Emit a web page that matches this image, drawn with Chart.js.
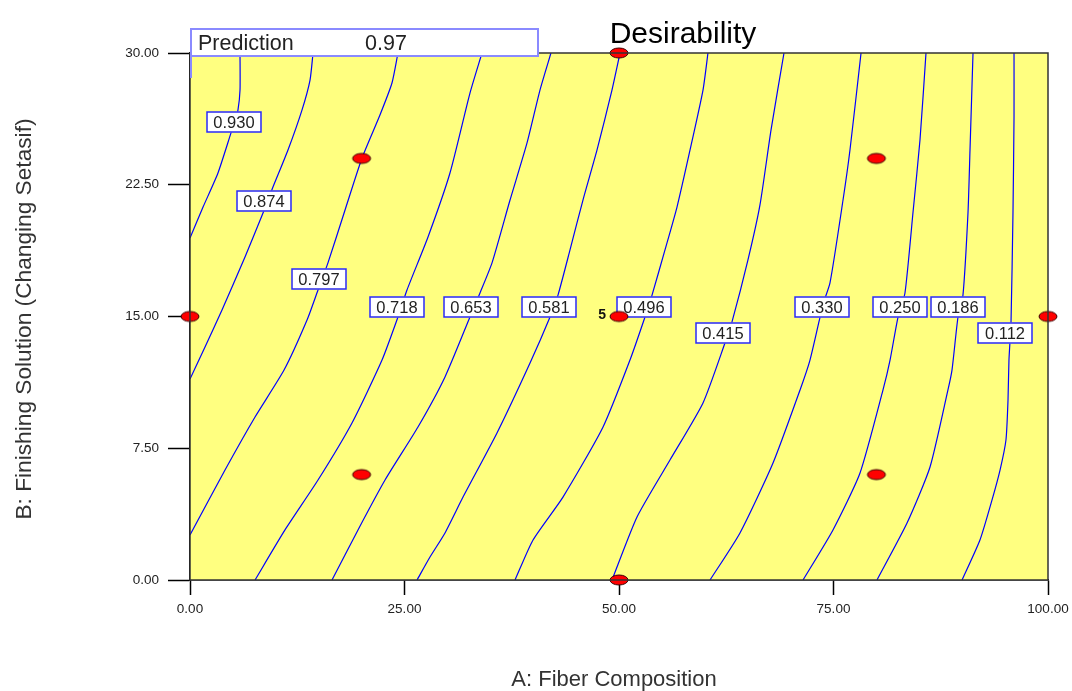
<!DOCTYPE html>
<html>
<head>
<meta charset="utf-8">
<script src="https://cdn.jsdelivr.net/npm/chart.js@4/dist/chart.umd.min.js"></script>
<style>
  html, body { margin: 0; padding: 0; background: #fff; }
  #wrap { width: 1072px; height: 691px; }
</style>
</head>
<body>
<div id="wrap"><canvas id="c" width="1072" height="691"></canvas></div>
<script>
// Axis ticks
const xTicks = [0, 25, 50, 75, 100];
const yTicks = [0, 7.5, 15, 22.5, 30];

// Contour levels of desirability
const levels = ['0.930', '0.874', '0.797', '0.718', '0.653', '0.581', '0.496', '0.415', '0.330', '0.250', '0.186', '0.112'];

// Contour paths as [A: Fiber Composition, B: Finishing Solution]
const c930 = [[5.83,30],[5.83,27.89],[5.59,26.75],[5.24,26.13],[4.78,25.45],[3.26,23.17],[1.52,21.23],[0,19.47]];
const c874 = [[14.34,30],[13.99,28.46],[13.05,26.75],[11.42,24.48],[9.67,22.37],[9.09,21.63],[8.51,20.89],[6.41,18.39],[3.73,15.37],[1.75,13.26],[0,11.44]];
const c797 = [[24.24,30],[23.54,28.29],[22.14,26.47],[20.05,24.02],[18.07,21.06],[16.08,18.05],[14.92,16.51],[13.64,14.80],[10.96,11.95],[7.58,9.28],[4.08,6.26],[0,2.56]];
const c718 = [[34.03,30],[32.63,27.72],[30.30,23.17],[27.74,19.53],[25.29,16.51],[24.24,14.97],[22.38,12.52],[18.88,8.94],[14.92,5.69],[11.07,2.85],[7.58,0]];
const c653 = [[42.07,30],[40.79,27.89],[39.28,24.88],[37.30,21.63],[35.20,18.05],[33.80,16.34],[32.63,14.97],[29.72,11.56],[26.57,8.71],[22.73,5.69],[19.58,2.85],[16.55,0]];
const c581 = [[50.12,30],[49.18,27.89],[47.44,24.48],[45.80,21.63],[44.29,18.79],[42.89,16.22],[41.96,14.97],[39.63,12.35],[35.78,8.37],[31.82,4.72],[29.72,2.68],[27.97,1.31],[26.46,0]];
const c496 = [[60.37,30],[59.79,27.89],[58.28,24.48],[56.76,21.23],[55.36,18.79],[53.85,16.22],[53.03,14.97],[51.28,12.52],[48.14,8.71],[43.47,4.72],[39.98,2.28],[37.88,0]];
const c415 = [[69.23,30],[67.72,25.62],[66.43,21.35],[65.03,18.22],[63.17,14.69],[62.35,13.49],[59.79,10.08],[55.94,6.83],[52.10,3.59],[49.18,0]];
const c330 = [[78.21,30],[76.92,24.48],[76.11,21.63],[74.59,16.91],[73.66,15.54],[73.43,14.97],[72.26,12.52],[71.10,10.82],[67.95,6.66],[64.10,2.68],[60.61,0]];
const c250 = [[85.78,30],[85.08,25.05],[84.27,20.95],[83.33,16.34],[82.52,14.97],[81.59,12.52],[80.77,10.82],[78.09,6.09],[74.94,2.85],[71.45,0]];
const c186 = [[91.26,30],[90.91,24.48],[90.68,20.95],[90.09,16.22],[89.51,14.97],[88.81,11.95],[88.34,10.82],[86.25,6.43],[83.57,3.24],[80.07,0]];
const c112 = [[96.04,30],[96.04,26.36],[95.92,20.95],[95.69,14.69],[95.45,12.52],[95.34,10.25],[95.10,7.97],[94.41,6.26],[93.47,4.55],[92.07,2.28],[89.98,0]];

// Where each contour level is labelled
const labelA = [5.13, 8.62, 15.03, 24.13, 32.75, 41.84, 52.91, 62.12, 73.66, 82.75, 89.51, 94.99];
const labelB = [26.07, 21.57, 17.13, 15.54, 15.54, 15.54, 15.54, 14.06, 15.54, 15.54, 15.54, 14.06];

// Design points
const designA = [0, 20, 20, 50, 50, 50, 80, 80, 100];
const designB = [15, 24, 6, 30, 15, 0, 24, 6, 15];
const centerRuns = '5';

// Prediction flag
const predictionValue = '0.97';
const predictionA = 0;
const predictionB = 30;

const contours = [c930, c874, c797, c718, c653, c581, c496, c415, c330, c250, c186, c112];

// Red elliptical marker for design points
function makeMarker() {
  const m = document.createElement('canvas');
  m.width = 22; m.height = 14;
  const g = m.getContext('2d');
  g.beginPath();
  g.ellipse(11, 7, 9, 5, 0, 0, Math.PI * 2);
  g.fillStyle = '#ff0000';
  g.fill();
  g.lineWidth = 1;
  g.strokeStyle = '#3a0000';
  g.stroke();
  return m;
}
const marker = makeMarker();

const datasets = [];
datasets.push({
  label: 'design',
  data: designA.map((a, i) => ({ x: a, y: designB[i] })),
  showLine: false,
  pointStyle: marker,
  pointRadius: 8,
  pointHoverRadius: 8,
  clip: false
});
contours.forEach((c, i) => {
  datasets.push({
    label: levels[i],
    data: c.map(p => ({ x: p[0], y: p[1] })),
    showLine: true,
    borderColor: '#0000ff',
    borderWidth: 1.2,
    pointRadius: 0,
    tension: 0.2,
    fill: false
  });
});

const FONT = '"Liberation Sans", Arial, sans-serif';

const decor = {
  id: 'decor',
  beforeDatasetsDraw(chart) {
    const { ctx, chartArea: a } = chart;
    ctx.save();
    ctx.fillStyle = '#ffff80';
    ctx.fillRect(a.left, a.top, a.right - a.left, a.bottom - a.top);
    ctx.restore();
  },
  afterDatasetDraw(chart, args) {
    if (args.index !== 1) return;
    const { ctx, scales: { x, y } } = chart;
    ctx.save();
    ctx.font = '16.5px ' + FONT;
    ctx.textAlign = 'center';
    ctx.textBaseline = 'middle';
    levels.forEach((lv, i) => {
      const px = Math.round(x.getPixelForValue(labelA[i]));
      const py = Math.round(y.getPixelForValue(labelB[i]));
      const w = 55, h = 21;
      ctx.fillStyle = '#ffffff';
      ctx.fillRect(px - w / 2, py - h / 2, w, h);
      ctx.strokeStyle = '#2a2aee';
      ctx.lineWidth = 1.5;
      ctx.strokeRect(px - w / 2 + 0.5, py - h / 2 + 0.5, w - 1, h - 1);
      ctx.fillStyle = '#222';
      ctx.fillText(lv, px, py + 1);
    });
    ctx.restore();
  },
  afterDraw(chart) {
    const { ctx, chartArea: a, scales: { x, y } } = chart;
    ctx.save();
    // plot frame
    ctx.strokeStyle = '#333';
    ctx.lineWidth = 1.5;
    ctx.strokeRect(a.left, a.top, a.right - a.left, a.bottom - a.top);

    // replicate count beside the centre point
    ctx.fillStyle = '#111';
    ctx.font = 'bold 14px ' + FONT;
    ctx.textAlign = 'right';
    ctx.textBaseline = 'middle';
    ctx.fillText(centerRuns, x.getPixelForValue(50) - 13, y.getPixelForValue(15) - 1);

    // prediction flag
    const fx = x.getPixelForValue(predictionA);
    const fy = y.getPixelForValue(predictionB);
    ctx.fillStyle = '#ffffff';
    ctx.fillRect(fx, fy - 24, 348, 27);
    ctx.strokeStyle = '#8a8aff';
    ctx.lineWidth = 2;
    ctx.strokeRect(fx + 1, fy - 24, 347, 27);
    ctx.beginPath();
    ctx.moveTo(fx + 1, fy + 3);
    ctx.lineTo(fx + 1, fy + 25);
    ctx.stroke();
    ctx.fillStyle = '#222';
    ctx.font = '21.5px ' + FONT;
    ctx.textAlign = 'left';
    ctx.textBaseline = 'alphabetic';
    ctx.fillText('Prediction', fx + 8, fy - 3);
    ctx.fillText(predictionValue, fx + 175, fy - 3);

    // title
    ctx.fillStyle = '#000';
    ctx.font = '30px ' + FONT;
    ctx.textAlign = 'center';
    ctx.fillText('Desirability', 683, 43);

    // axis titles
    ctx.fillStyle = '#333';
    ctx.font = '22px ' + FONT;
    ctx.textBaseline = 'middle';
    ctx.fillText('A: Fiber Composition', 614, 680);
    ctx.font = '22.7px ' + FONT;
    ctx.translate(25, 319);
    ctx.rotate(-Math.PI / 2);
    ctx.fillText('B: Finishing Solution (Changing Setasif)', 0, 0);
    ctx.restore();
  }
};

new Chart(document.getElementById('c'), {
  type: 'scatter',
  data: { datasets },
  options: {
    responsive: false,
    animation: false,
    devicePixelRatio: 1,
    layout: { padding: { top: 53, right: 24, left: 0, bottom: 0 } },
    plugins: { legend: { display: false }, tooltip: { enabled: false } },
    scales: {
      x: {
        type: 'linear', min: 0, max: 100,
        afterBuildTicks: s => { s.ticks = xTicks.map(v => ({ value: v })); },
        afterFit: s => { s.height = 111; s.paddingLeft = 0; s.paddingRight = 0; },
        grid: { drawOnChartArea: false, drawTicks: true, tickLength: 15, tickColor: '#000', tickWidth: 1.5 },
        border: { display: true, color: '#000', width: 1.5 },
        ticks: { color: '#222', font: { size: 13.5, family: FONT }, padding: 6, maxRotation: 0, autoSkip: false,
                 callback: v => Number(v).toFixed(2) }
      },
      y: {
        type: 'linear', min: 0, max: 30,
        afterBuildTicks: s => { s.ticks = yTicks.map(v => ({ value: v })); },
        afterFit: s => { s.width = 190; s.paddingTop = 0; s.paddingBottom = 0; },
        grid: { drawOnChartArea: false, drawTicks: true, tickLength: 22, tickColor: '#000', tickWidth: 1.5 },
        border: { display: true, color: '#000', width: 1.5 },
        ticks: { color: '#222', font: { size: 13.5, family: FONT }, padding: 9, autoSkip: false,
                 callback: v => Number(v).toFixed(2) }
      }
    }
  },
  plugins: [decor]
});
</script>
</body>
</html>
